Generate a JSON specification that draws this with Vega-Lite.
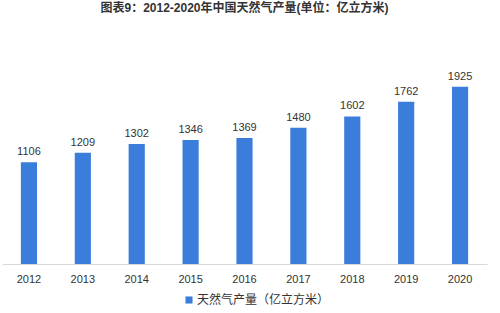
{
  "$schema": "https://vega.github.io/schema/vega-lite/v6.json",
  "autosize": {"type": "none"},
  "padding": {"left": 2, "top": 43, "right": 13, "bottom": 49},
  "width": 485,
  "height": 221,
  "background": "white",
  "title": {
    "text": "图表9：2012-2020年中国天然气产量(单位：亿立方米)",
    "font": "Liberation Sans, Noto Sans CJK SC",
    "fontSize": 12,
    "fontWeight": "bold",
    "color": "#333333",
    "anchor": "middle",
    "offset": 28
  },
  "config": {"view": {"stroke": null}},
  "data": {
    "values": [
      {"year": "2012", "value": 1106, "series": "天然气产量（亿立方米）"},
      {"year": "2013", "value": 1209, "series": "天然气产量（亿立方米）"},
      {"year": "2014", "value": 1302, "series": "天然气产量（亿立方米）"},
      {"year": "2015", "value": 1346, "series": "天然气产量（亿立方米）"},
      {"year": "2016", "value": 1369, "series": "天然气产量（亿立方米）"},
      {"year": "2017", "value": 1480, "series": "天然气产量（亿立方米）"},
      {"year": "2018", "value": 1602, "series": "天然气产量（亿立方米）"},
      {"year": "2019", "value": 1762, "series": "天然气产量（亿立方米）"},
      {"year": "2020", "value": 1925, "series": "天然气产量（亿立方米）"}
    ]
  },
  "encoding": {
    "x": {
      "field": "year",
      "type": "ordinal",
      "scale": {"paddingInner": 0.7, "paddingOuter": 0.35},
      "axis": {
        "title": null,
        "labelAngle": 0,
        "ticks": false,
        "domainColor": "#d9d9d9",
        "labelFont": "Liberation Sans",
        "labelFontSize": 11,
        "labelColor": "#333333",
        "labelPadding": 9
      }
    },
    "y": {
      "field": "value",
      "type": "quantitative",
      "scale": {"domain": [0, 2400]},
      "axis": null
    }
  },
  "layer": [
    {
      "mark": {"type": "bar", "color": "#3B7DDB"},
      "encoding": {
        "color": {
          "field": "series",
          "type": "nominal",
          "scale": {"range": ["#3B7DDB"]},
          "legend": {
            "title": null,
            "orient": "none",
            "legendX": 181,
            "legendY": 251,
            "direction": "horizontal",
            "symbolType": "square",
            "symbolSize": 50,
            "symbolStrokeWidth": 0,
            "labelFont": "Noto Sans CJK SC",
            "labelFontSize": 12,
            "labelColor": "#333333",
            "labelOffset": 2
          }
        }
      }
    },
    {
      "mark": {
        "type": "text",
        "baseline": "bottom",
        "dy": -5,
        "font": "Liberation Sans",
        "fontSize": 11,
        "color": "#333333"
      },
      "encoding": {"text": {"field": "value", "type": "quantitative"}}
    }
  ]
}
